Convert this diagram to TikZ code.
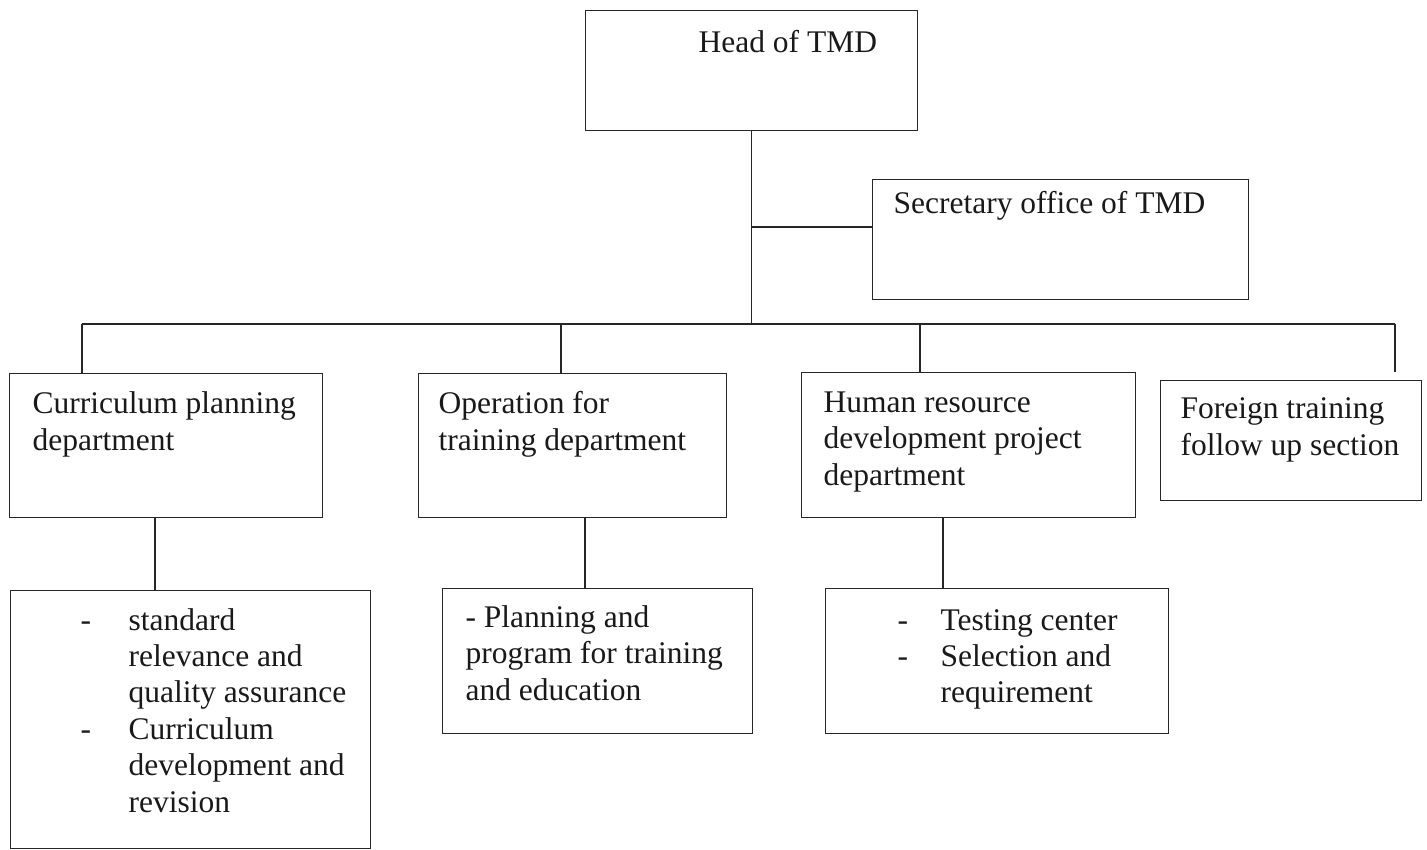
\documentclass[tikz,border=0pt]{standalone}
\usepackage{fontspec}
\setmainfont{Liberation Serif}

\tikzset{every picture/.style={line width=1.2pt}}

\begin{document}
\begin{tikzpicture}[x=1pt,y=1pt,yscale=-1,xscale=1,
	orgbox/.style={draw=black!85, rectangle, inner sep=0pt, anchor=north west},
	boxtext/.style={anchor=base west, align=left, inner sep=0pt, text=black!90, font=\fontsize{31.5}{36.4}\selectfont},
	link/.style={draw=black!85}]
	\useasboundingbox (0,0) rectangle (1427,849);

	% Boxes
	\node [orgbox, minimum width=332, minimum height=120] (head) at (585,10) {};
	\node [orgbox, minimum width=376, minimum height=120] (sec) at (872,179) {};
	\node [orgbox, minimum width=313, minimum height=144] (cur) at (9,373) {};
	\node [orgbox, minimum width=308, minimum height=144] (ops) at (418,373) {};
	\node [orgbox, minimum width=334, minimum height=145] (hrd) at (801,372) {};
	\node [orgbox, minimum width=261, minimum height=120] (frn) at (1160,380) {};
	\node [orgbox, minimum width=360, minimum height=258] (curSub) at (10,590) {};
	\node [orgbox, minimum width=310, minimum height=145] (opsSub) at (442,588) {};
	\node [orgbox, minimum width=343, minimum height=145] (hrdSub) at (825,588) {};

	% Text Node (base = last line)
	\node [boxtext] (headTxt) at (698,52) {Head of TMD};
	\node [boxtext] (secTxt) at (893,213) {Secretary office of TMD};
	\node [boxtext] (curTxt) at (32,450) {Curriculum planning\\department};
	\node [boxtext] (opsTxt) at (438,450) {Operation for\\training department};
	\node [boxtext] (hrdTxt) at (823,485) {Human resource\\development project\\department};
	\node [boxtext] (frnTxt) at (1180,455) {Foreign training\\follow up section};
	\node [boxtext] (curSubTxt) at (80,630) {\begin{tabular}[t]{@{}l@{\hspace{37.5pt}}l@{}}
		- & standard\\ & relevance and\\ & quality assurance\\
		- & Curriculum\\ & development and\\ & revision\end{tabular}};
	\node [boxtext] (opsSubTxt) at (465,700) {- Planning and\\program for training\\and education};
	\node [boxtext] (hrdSubTxt) at (897,630) {\begin{tabular}[t]{@{}l@{\hspace{32.5pt}}l@{}}
		- & Testing center\\
		- & Selection and\\ & requirement\end{tabular}};

	% Straight Lines
	\coordinate (jSec) at (751,227);
	\coordinate (b1) at (82,324);
	\coordinate (b2) at (561,324);
	\coordinate (b3) at (920,324);
	\coordinate (b4) at (1395,324);
	\coordinate (d1) at (155,0);
	\coordinate (d2) at (585,0);
	\coordinate (d3) at (943,0);

	\draw [link] (head.south) -- (head.south |- b1);
	\draw [link] (jSec) -- (jSec -| sec.west);
	\draw [link] (b1) -- (b4);
	\draw [link] (b1) -- (b1 |- cur.north);
	\draw [link] (b2) -- (b2 |- ops.north);
	\draw [link] (b3) -- (b3 |- hrd.north);
	\draw [link, shorten >=8pt] (b4) -- (b4 |- frn.north);
	\draw [link] (cur.south -| d1) -- (curSub.north -| d1);
	\draw [link] (ops.south -| d2) -- (opsSub.north -| d2);
	\draw [link] (hrd.south -| d3) -- (hrdSub.north -| d3);

\end{tikzpicture}
\end{document}
